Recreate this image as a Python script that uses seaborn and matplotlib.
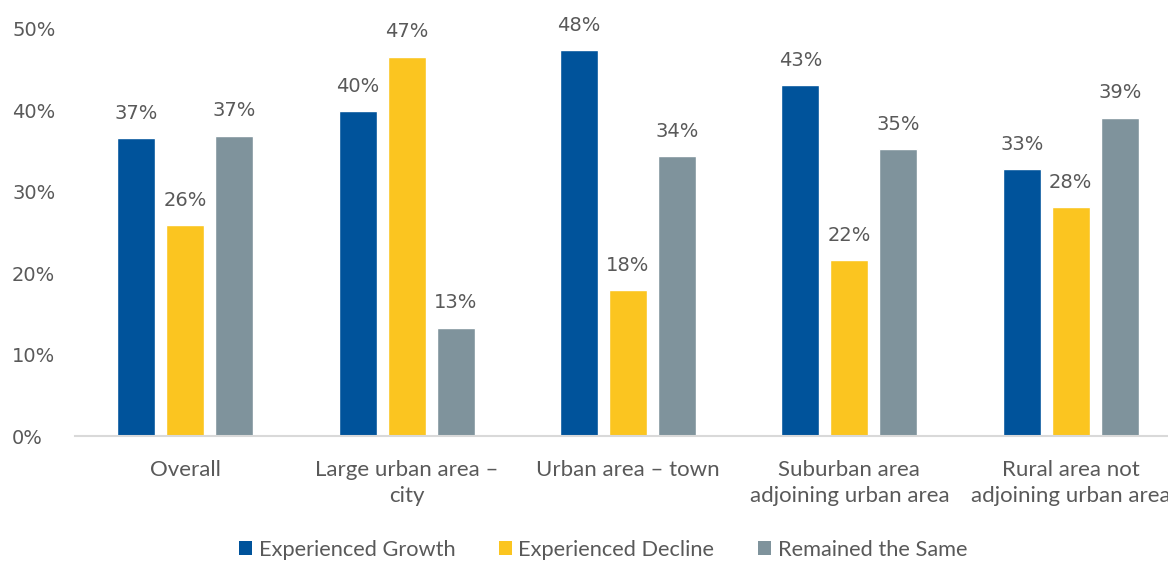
import matplotlib
matplotlib.use("Agg")
import matplotlib.pyplot as plt
import seaborn as sns
import pandas as pd
from matplotlib.patches import Patch

categories = ["Overall", "Large urban area \u2013\ncity", "Urban area \u2013 town",
              "Suburban area\nadjoining urban area", "Rural area not\nadjoining urban area"]
series = ["Experienced Growth", "Experienced Decline", "Remained the Same"]
growth = [36.6, 39.9, 47.4, 43.1, 32.8]
decline = [25.9, 46.6, 17.9, 21.6, 28.1]
same = [36.9, 13.3, 34.4, 35.2, 39.1]
labels_growth = ["37%", "40%", "48%", "43%", "33%"]
labels_decline = ["26%", "47%", "18%", "22%", "28%"]
labels_same = ["37%", "13%", "34%", "35%", "39%"]
yticks = [0, 10, 20, 30, 40, 50]

colors = ["#00539B", "#FBC520", "#7F939C"]
text_color = "#595959"

sns.set_theme(style="white")
plt.rcParams["font.family"] = ["DejaVu Sans"]

df = pd.DataFrame({
    "category": categories * 3,
    "series": [series[0]] * 5 + [series[1]] * 5 + [series[2]] * 5,
    "value": growth + decline + same,
})

fig = plt.figure(figsize=(11.68, 5.61), dpi=100)
ax = fig.add_axes([74.5 / 1168, 125 / 561, 1107 / 1168, 407 / 561])

sns.barplot(data=df, x="category", y="value", hue="series", hue_order=series,
            order=categories, palette=colors, width=0.665, gap=0.225,
            saturation=1, ax=ax, legend=False)

all_labels = [labels_growth, labels_decline, labels_same]
for cont, labs in zip(ax.containers, all_labels):
    ax.bar_label(cont, labels=labs, padding=11, fontsize=14, color=text_color)

ax.set_xlim(-0.5, 4.5)
ax.set_ylim(0, 50)
ax.set_yticks(yticks)
ax.set_yticklabels([f"{t}%" for t in yticks], fontsize=14, color=text_color)
ax.tick_params(axis="y", length=0, pad=45)
for lbl in ax.get_yticklabels():
    lbl.set_horizontalalignment("left")
ax.tick_params(axis="x", length=0, pad=17.5)
ax.set_xticks(range(len(categories)))
ax.set_xticklabels(categories, fontsize=16, color=text_color, family="Lato", linespacing=1.38)
ax.set_xlabel("")
ax.set_ylabel("")
for s in ["top", "right", "left"]:
    ax.spines[s].set_visible(False)
ax.spines["bottom"].set_color("#D9D9D9")
ax.spines["bottom"].set_linewidth(1.5)
ax.grid(False)

handles = [Patch(facecolor=c, edgecolor="none") for c in colors]
fig.legend(handles, series, loc="center", bbox_to_anchor=(603 / 1168, 1 - 550 / 561),
           ncol=3, frameon=False, handlelength=0.6, handleheight=0.6, handletextpad=0.3,
           columnspacing=2.0, prop={"family": "Lato", "size": 15.7}, labelcolor=text_color)

fig.savefig("out.png", dpi=100)
